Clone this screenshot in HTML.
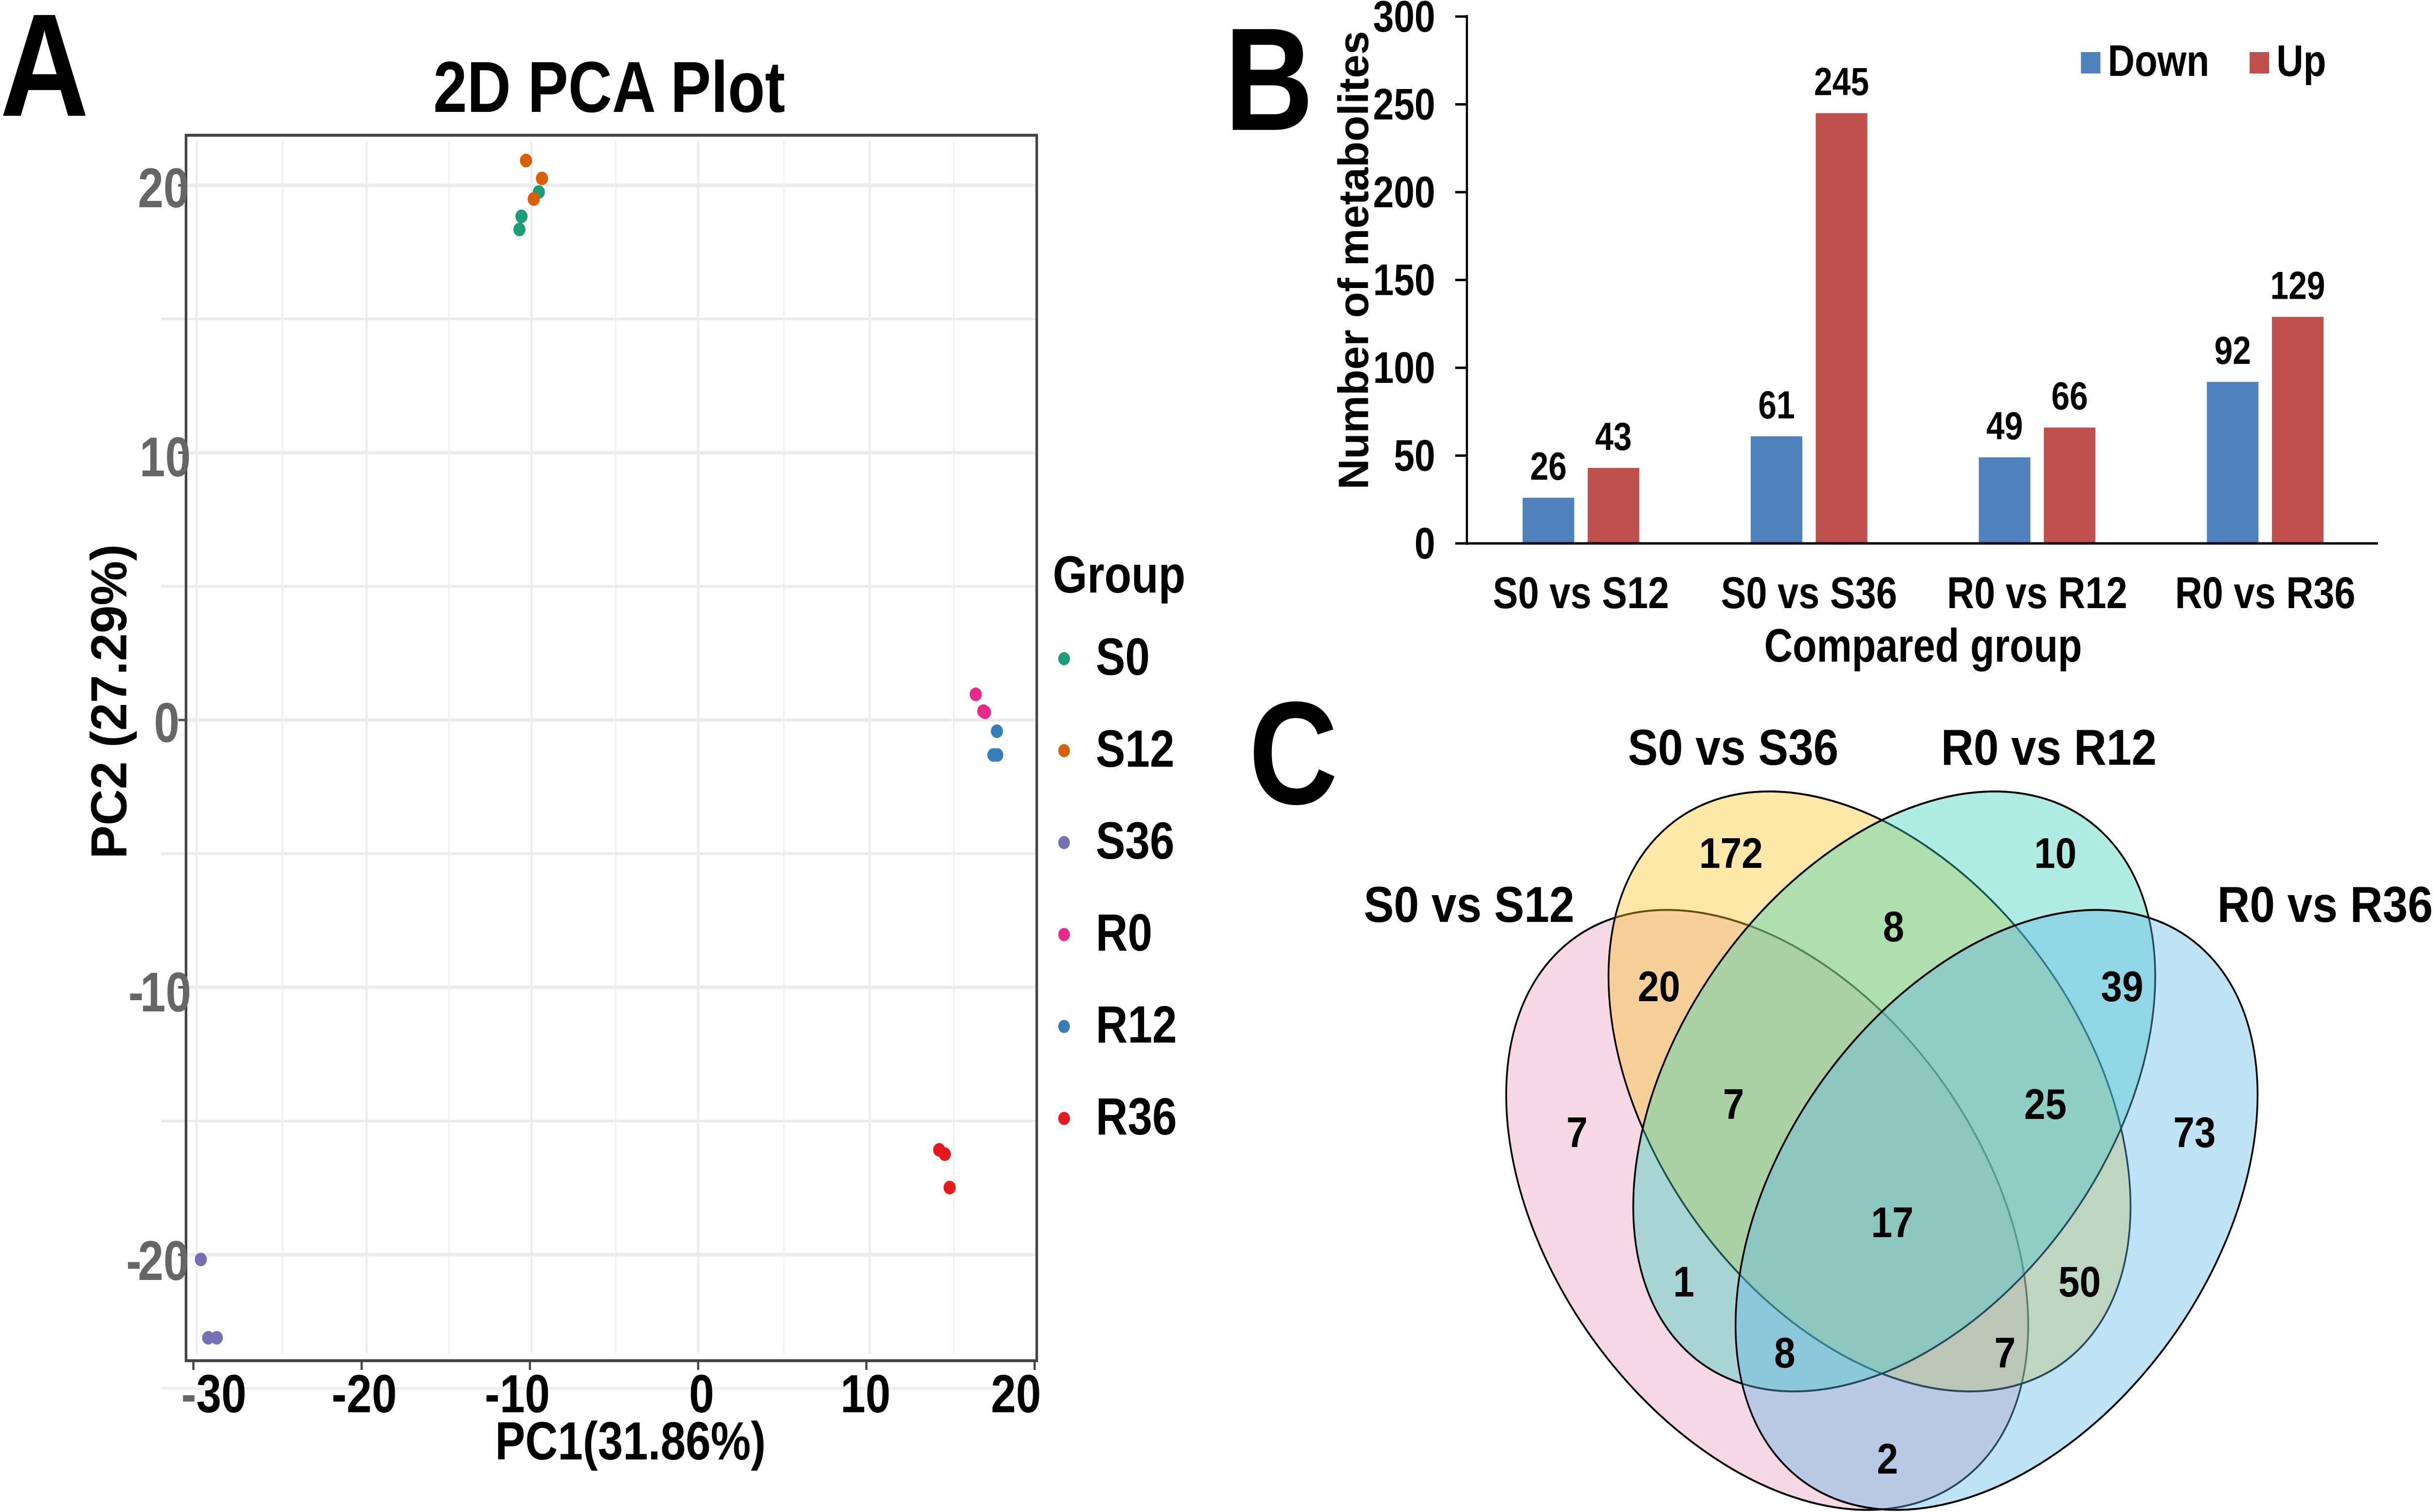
<!DOCTYPE html>
<html lang="en">
<head>
<meta charset="utf-8">
<title>Metabolite PCA, differential counts and Venn diagram</title>
<style>
html,body{margin:0;padding:0;background:#fff;width:100%;height:100%;overflow:hidden;}
svg{display:block;width:100vw;height:100vh;}
text{font-family:"Liberation Sans",sans-serif;font-weight:bold;fill:#000;}
.grey{fill:#666;}
.ytl{font-size:106px;fill:#666;}
.xtl{font-size:104px;text-anchor:middle;}
.leg{font-size:102px;}
.cat{font-size:87px;text-anchor:middle;}
.val{font-size:76px;text-anchor:middle;}
.ytb{font-size:86px;text-anchor:end;}
.vt{font-size:104px;text-anchor:middle;}
.vn{font-size:88px;text-anchor:middle;}
</style>
</head>
<body>
<svg xmlns="http://www.w3.org/2000/svg" viewBox="0 0 5611 3108" preserveAspectRatio="none">
  <rect x="0" y="0" width="5611" height="3108" fill="#fff"/>

  <!-- Panel A -->
  <text x="0" y="238" font-size="284">A</text>
  <text x="1405" y="230" font-size="140" text-anchor="middle">2D PCA Plot</text>
  <g id="pca-grid"></g>
  <rect x="429" y="278" width="1962" height="2519" fill="none" stroke="#444" stroke-width="6"/>
  <g id="pca-ticks"></g>
  <g id="pca-points"></g>
  <g>
    <text class="ytl" x="318" y="426">20</text>
    <text class="ytl" x="322" y="979">10</text>
    <text class="ytl" x="355" y="1525">0</text>
    <text class="ytl" x="296" y="2079">-<tspan x="323">10</tspan></text>
    <text class="ytl" x="291" y="2631">-<tspan x="318">20</tspan></text>
  </g>
  <g>
    <text x="418" y="2903" font-size="104"><tspan class="grey">-</tspan><tspan>30</tspan></text>
    <text class="xtl" x="840" y="2903">-20</text>
    <text class="xtl" x="1193" y="2903">-10</text>
    <text class="xtl" x="1618" y="2903">0</text>
    <text class="xtl" x="1996" y="2903">10</text>
    <text class="xtl" x="2343" y="2903">20</text>
  </g>
  <text x="1454" y="3000" font-size="104" text-anchor="middle">PC1(31.86%)</text>
  <text class="tall" x="291" y="1442" font-size="103" text-anchor="middle" transform="rotate(-90 291 1442)">PC2 (27.29%)</text>
  <text x="2428" y="1218" font-size="102">Group</text>
  <g id="pca-legend"></g>

  <!-- Panel B -->
  <text x="2824" y="267" font-size="284">B</text>
  <text class="tall" x="3155" y="535" font-size="87" text-anchor="middle" transform="rotate(-90 3155 535)">Number of metabolites</text>
  <g id="bar-bars"></g>
  <g id="bar-axes"></g>
  <text x="4435" y="1360" font-size="91" text-anchor="middle">Compared group</text>
  <rect x="4799" y="107" width="45" height="44" fill="#4f81bd"/>
  <text x="4861" y="156" font-size="86">Down</text>
  <rect x="5188" y="107" width="45" height="44" fill="#c0504d"/>
  <text x="5250" y="156" font-size="86">Up</text>

  <!-- Panel C -->
  <text x="2880" y="1652" font-size="284">C</text>
  <g stroke="#000" stroke-width="4">
    <path d="M3584.7 1964.3A717 478 46.8 1 0 4566.3 3009.7A717 478 46.8 1 0 3584.7 1964.3Z" fill="#e69dbb" fill-opacity="0.4"/>
    <path d="M3820.7 1720.8A717 478 46.8 1 0 4802.3 2766.2A717 478 46.8 1 0 3820.7 1720.8Z" fill="#fac628" fill-opacity="0.4"/>
    <path d="M3877.7 2766.2A717 478 -46.8 1 0 4859.3 1720.8A717 478 -46.8 1 0 3877.7 2766.2Z" fill="#3ad0b9" fill-opacity="0.4"/>
    <path d="M4113.7 3009.7A717 478 -46.8 1 0 5095.3 1964.3A717 478 -46.8 1 0 4113.7 3009.7Z" fill="#62b7e6" fill-opacity="0.4"/>
  </g>
  <g>
    <text class="vt" x="3388" y="1895">S0 vs S12</text>
    <text class="vt" x="3997" y="1572">S0 vs S36</text>
    <text class="vt" x="4725" y="1572">R0 vs R12</text>
    <text class="vt" x="5362" y="1895">R0 vs R36</text>
  </g>
  <g>
    <text class="vn" x="3992" y="1784">172</text>
    <text class="vn" x="4740" y="1784">10</text>
    <text class="vn" x="4367" y="1935">8</text>
    <text class="vn" x="3826" y="2058">20</text>
    <text class="vn" x="4894" y="2058">39</text>
    <text class="vn" x="3998" y="2300">7</text>
    <text class="vn" x="4717" y="2300">25</text>
    <text class="vn" x="3637" y="2358">7</text>
    <text class="vn" x="5061" y="2358">73</text>
    <text class="vn" x="4364" y="2543">17</text>
    <text class="vn" x="3883" y="2665">1</text>
    <text class="vn" x="4796" y="2665">50</text>
    <text class="vn" x="4116" y="2811">8</text>
    <text class="vn" x="4624" y="2811">7</text>
    <text class="vn" x="4353" y="3029">2</text>
  </g>
</svg>

<script>
// PCA data
const groupNames = ['S0', 'S12', 'S36', 'R0', 'R12', 'R36'];
const pc1S0 = [-9.47, -10.5, -10.62];
const pc2S0 = [19.75, 18.84, 18.35];
const pc1S12 = [-10.23, -9.28, -9.77];
const pc2S12 = [20.93, 20.26, 19.49];
const pc1S36 = [-29.56, -29.12, -28.61];
const pc2S36 = [-20.18, -23.11, -23.11];
const pc1R0 = [16.5, 17.05, 16.95];
const pc2R0 = [0.96, 0.29, 0.33];
const pc1R12 = [17.76, 17.55, 17.78];
const pc2R12 = [-0.42, -1.31, -1.31];
const pc1R36 = [14.33, 14.66, 14.95];
const pc2R36 = [-16.08, -16.24, -17.49];
const xTickValues = [-30, -20, -10, 0, 10, 20];
const yTickValues = [20, 10, 0, -10, -20];
const xGridMajor = [-29.8, -19.7, -9.9, 0, 10.2];
const xGridMinor = [-24.7, -14.8, -4.9, 5.1, 15.2];
const yGridMajor = [20, 10, 0, -10, -20];
const yGridMinor = [15, 5, -5, -15, -25];

// Bar chart data
const categories = ['S0 vs S12', 'S0 vs S36', 'R0 vs R12', 'R0 vs R36'];
const downValues = [26, 61, 49, 92];
const upValues = [43, 245, 66, 129];
const barTicks = [0, 50, 100, 150, 200, 250, 300];

const SVGNS = 'http://www.w3.org/2000/svg';
function mk(tag, attrs, parent, txt) {
  const e = document.createElementNS(SVGNS, tag);
  for (const k in attrs) e.setAttribute(k, attrs[k]);
  if (txt !== undefined) e.textContent = txt;
  parent.appendChild(e);
  return e;
}
const pcaX = v => 1610 + 38.8 * v;
const pcaY = v => 1480 - 54.95 * v;
const barY = v => 1117 - 3.61 * v;
const bandX = i => 3383 + 526 * (i + 0.5);

const pcaColors = ['#1b9e77', '#d95f02', '#7570b3', '#e7298a', '#377eb8', '#e41a1c'];
const pcaSeriesX = [pc1S0, pc1S12, pc1S36, pc1R0, pc1R12, pc1R36];
const pcaSeriesY = [pc2S0, pc2S12, pc2S36, pc2R0, pc2R12, pc2R36];

// PCA grid
const gridG = document.getElementById('pca-grid');
yGridMinor.forEach(v => {
  const l = mk('line', {x1: 371, x2: 2391, y1: pcaY(v), y2: pcaY(v), stroke: '#ececec', 'stroke-width': 5}, gridG);
  
  
});
yGridMajor.forEach(v => {
  const l = mk('line', {x1: 429, x2: 2391, y1: pcaY(v), y2: pcaY(v), stroke: '#ececec', 'stroke-width': 7}, gridG);
  
  
});
xGridMinor.forEach(v => {
  const l = mk('line', {x1: pcaX(v), x2: pcaX(v), y1: 290, y2: 2782, stroke: '#eeeeee', 'stroke-width': 3}, gridG);
  
  
});
xGridMajor.forEach(v => {
  const l = mk('line', {x1: pcaX(v), x2: pcaX(v), y1: 290, y2: 2782, stroke: '#ececec', 'stroke-width': 5}, gridG);
  
  
});

// PCA ticks
const tickG = document.getElementById('pca-ticks');
xTickValues.forEach(v => {
  const l = mk('line', {x1: pcaX(v), x2: pcaX(v), y1: 2797, y2: 2816, stroke: '#444', 'stroke-width': 5}, tickG);
  
  
});
yTickValues.forEach(v => {
  const l = mk('line', {x1: 411, x2: 429, y1: pcaY(v), y2: pcaY(v), stroke: '#555', 'stroke-width': 5}, tickG);
  
  
});

// PCA points
const ptG = document.getElementById('pca-points');
groupNames.forEach((name, g) => {
  pcaSeriesX[g].forEach((vx, i) => {
    const c = mk('circle', {cx: pcaX(vx), cy: pcaY(pcaSeriesY[g][i]), r: 14, fill: pcaColors[g]}, ptG);
    
    
  });
});

// PCA legend
const legG = document.getElementById('pca-legend');
groupNames.forEach((name, g) => {
  const row = 1387 + 189 * g;
  const c = mk('circle', {cx: 2454, cy: row - 33, r: 13.5, fill: pcaColors[g]}, legG);
  
  
  const t = mk('text', {x: 2527, y: row, class: 'leg'}, legG, name);
  
  
});

// Bars
const barG = document.getElementById('bar-bars');
categories.forEach((cat, i) => {
  const cx = bandX(i);
  const dx = cx - 134.5, ux = cx + 15.5;
  const d = mk('rect', {x: dx, y: barY(downValues[i]), width: 119, height: barY(0) - barY(downValues[i]), fill: '#4f81bd'}, barG);
  
  
  const u = mk('rect', {x: ux, y: barY(upValues[i]), width: 119, height: barY(0) - barY(upValues[i]), fill: '#c0504d'}, barG);
  
  
  const dl = mk('text', {x: dx + 59.5, y: barY(downValues[i]) - 37, class: 'val'}, barG, String(downValues[i]));
  
  
  const ul = mk('text', {x: ux + 59.5, y: barY(upValues[i]) - 37, class: 'val'}, barG, String(upValues[i]));
  
  
  const cl = mk('text', {x: cx, y: 1250, class: 'cat'}, barG, cat);
  
  
});

// Bar axes
const axG = document.getElementById('bar-axes');
const yAxis = mk('line', {x1: 3383, x2: 3383, y1: barY(300) - 3, y2: barY(0) + 3, stroke: '#000', 'stroke-width': 5}, axG);


const xAxis = mk('line', {x1: 3383, x2: 5484, y1: barY(0), y2: barY(0), stroke: '#000', 'stroke-width': 5}, axG);


barTicks.forEach(v => {
  const l = mk('line', {x1: 3356, x2: 3383, y1: barY(v), y2: barY(v), stroke: '#000', 'stroke-width': 5}, axG);
  
  
  const t = mk('text', {x: 3310, y: barY(v) + 31, class: 'ytb'}, axG, String(v));
  
  
});

// The original glyphs are slightly taller than Liberation's: stretch about each baseline
document.querySelectorAll('svg text:not(.vn):not(.vt)').forEach(t => {
  const y = parseFloat(t.getAttribute('y'));
  const prev = t.getAttribute('transform') || '';
  const k = t.classList.contains('tall') ? 1.13 : t.classList.contains('ytl') ? 1.09 : 1.06;
  t.setAttribute('transform', prev + ' translate(0 ' + y + ') scale(1 ' + k + ') translate(0 ' + (-y) + ')');
});
</script>
</body>
</html>
